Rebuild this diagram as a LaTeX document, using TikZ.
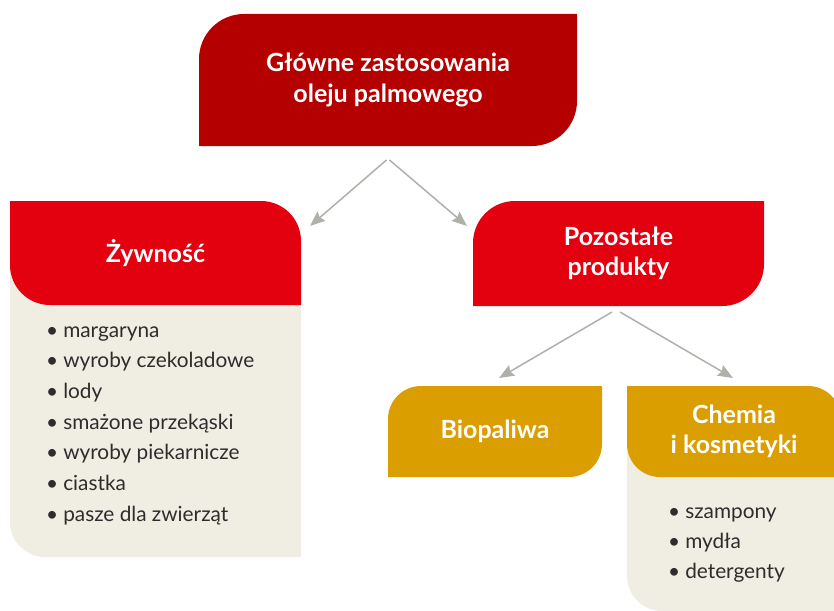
\documentclass[tikz,border=0pt]{standalone}
\usepackage{fontspec}
\setmainfont{Lato}
\usetikzlibrary{arrows.meta,positioning}

\definecolor{topred}{RGB}{181,0,0}
\definecolor{headred}{RGB}{227,0,15}
\definecolor{gold}{RGB}{219,158,0}
\definecolor{beige}{RGB}{240,237,227}
\definecolor{arrowgray}{RGB}{176,176,170}
\definecolor{itemgray}{RGB}{45,45,45}

\begin{document}
\begin{tikzpicture}[x=1pt,y=-1pt,
  box/.style={rectangle,inner sep=0pt,outer sep=0pt,align=center,text=white,
    font=\fontsize{25}{30.5}\selectfont\bfseries},
  tlbr/.style 2 args={box,path picture={\fill[#1]
      (path picture bounding box.south west)
      -- ([yshift=-#2pt]path picture bounding box.north west)
      arc[start angle=180,end angle=90,radius=#2pt]
      -- (path picture bounding box.north east)
      -- ([yshift=#2pt]path picture bounding box.south east)
      arc[start angle=0,end angle=-90,radius=#2pt] -- cycle;}},
  trbl/.style 2 args={box,path picture={\fill[#1]
      (path picture bounding box.north west)
      -- ([xshift=-#2pt]path picture bounding box.north east)
      arc[start angle=90,end angle=0,radius=#2pt]
      -- (path picture bounding box.south east)
      -- ([xshift=#2pt]path picture bounding box.south west)
      arc[start angle=270,end angle=180,radius=#2pt] -- cycle;}},
  listbg/.style={rectangle,inner sep=0pt,outer sep=0pt,path picture={\fill[beige]
      (path picture bounding box.north west)
      -- (path picture bounding box.north east)
      -- (path picture bounding box.south east)
      -- ([xshift=#1pt]path picture bounding box.south west)
      arc[start angle=270,end angle=180,radius=#1pt] -- cycle;}},
  item/.style={anchor=base west,inner sep=0pt,text=itemgray,
    font=\fontsize{20.8}{24}\selectfont},
  arr/.style={-{Stealth[length=15pt,width=12pt,inset=2pt]},line width=1.5pt,draw=arrowgray}]

 \useasboundingbox (0,0) rectangle (834,610);
 \clip (0,0) rectangle (834,610);

 % ---- list backgrounds ----
 \node[listbg=35,minimum width=291pt,minimum height=304pt] (foodbg) at (155.5,405) {};
 \node[listbg=35,minimum width=214pt,minimum height=180pt] (chembg) at (734,521) {};

 % ---- headers ----
 \node[tlbr={topred}{45},minimum width=378pt,minimum height=132pt] (main) at (388,80)
   {Główne zastosowania\\oleju palmowego};
 \node[trbl={headred}{40},minimum width=291pt,minimum height=104pt] (food) at (155.5,253) {Żywność};
 \node[tlbr={headred}{42},minimum width=291pt,minimum height=105pt] (other) at (618.5,253.5)
   {Pozostałe\\produkty};
 \node[tlbr={gold}{33},minimum width=214pt,minimum height=91pt] (bio) at (495,431.5) {Biopaliwa};
 \node[trbl={gold}{33},minimum width=214pt,minimum height=91pt] (chem) at (734,431.5)
   {Chemia\\i kosmetyki};

 % ---- lists ----
 \foreach \t [count=\i] in {margaryna,wyroby czekoladowe,lody,smażone przekąski,
     wyroby piekarnicze,ciastka,pasze dla zwierząt}
   \node[item] (food-\i) at (46,{337+30.7*(\i-1)}) {•\hspace{5pt}\t};
 \foreach \t [count=\i] in {szampony,mydła,detergenty}
   \node[item] (chem-\i) at (668,{518+30*(\i-1)}) {•\hspace{5pt}\t};

 % ---- connectors ----
 \draw[arr] ([xshift=-1.5pt,yshift=-14pt]main.south) -- ([xshift=9pt,yshift=-25pt]food.north east);
 \draw[arr] ([xshift=1.5pt,yshift=-14pt]main.south) -- ([xshift=-6pt,yshift=-25pt]other.north west);
 \draw[arr] ([xshift=-6.5pt,yshift=-6pt]other.south) -- ([xshift=4pt,yshift=8pt]bio.north);
 \draw[arr] ([xshift=1.5pt,yshift=-6pt]other.south) -- ([xshift=-1pt,yshift=8pt]chem.north);
\end{tikzpicture}
\end{document}
